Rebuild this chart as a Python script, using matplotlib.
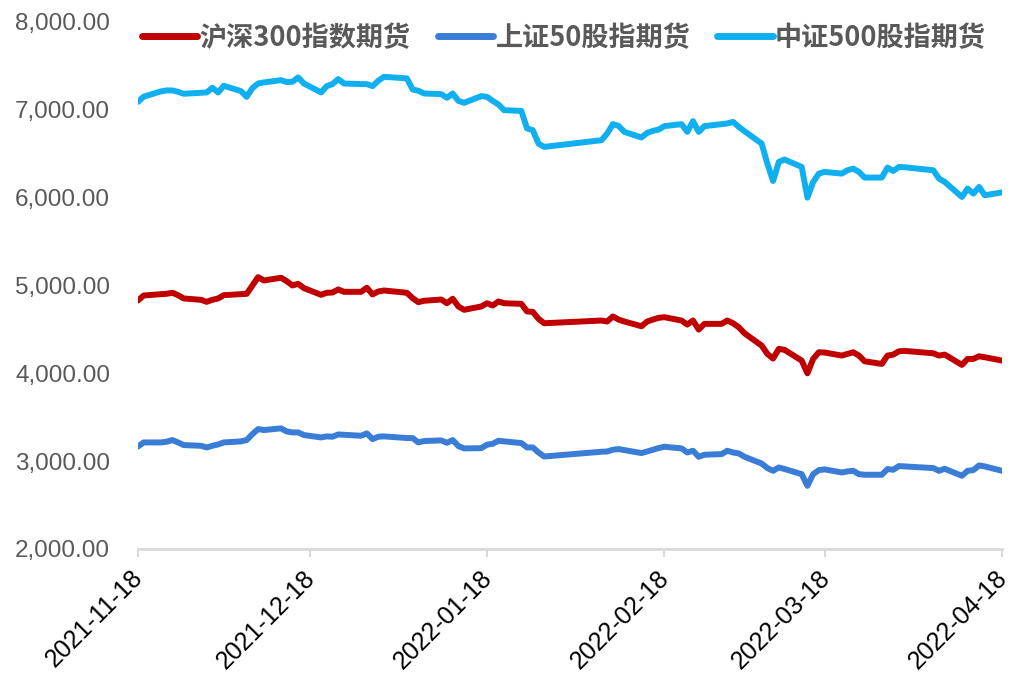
import pandas as pd
import matplotlib
matplotlib.use("Agg")
import matplotlib.pyplot as plt
import matplotlib.dates as mdates
import matplotlib.transforms as mtransforms
from matplotlib.ticker import FuncFormatter

plt.rcParams['font.family'] = ['Liberation Sans', 'Noto Sans CJK SC', 'DejaVu Sans']

# ------------------------------
# data (trading days)
# ------------------------------
dates = [
    "2021-11-18", "2021-11-19", "2021-11-22", "2021-11-23", "2021-11-24", "2021-11-25", "2021-11-26",
    "2021-11-29", "2021-11-30", "2021-12-01", "2021-12-02", "2021-12-03", "2021-12-06", "2021-12-07",
    "2021-12-08", "2021-12-09", "2021-12-10", "2021-12-13", "2021-12-14", "2021-12-15", "2021-12-16",
    "2021-12-17", "2021-12-20", "2021-12-21", "2021-12-22", "2021-12-23", "2021-12-24", "2021-12-27",
    "2021-12-28", "2021-12-29", "2021-12-30", "2021-12-31", "2022-01-04", "2022-01-05", "2022-01-06",
    "2022-01-07", "2022-01-10", "2022-01-11", "2022-01-12", "2022-01-13", "2022-01-14", "2022-01-17",
    "2022-01-18", "2022-01-19", "2022-01-20", "2022-01-21", "2022-01-24", "2022-01-25", "2022-01-26",
    "2022-01-27", "2022-01-28", "2022-02-07", "2022-02-08", "2022-02-09", "2022-02-10", "2022-02-11",
    "2022-02-14", "2022-02-15", "2022-02-16", "2022-02-17", "2022-02-18", "2022-02-21", "2022-02-22",
    "2022-02-23", "2022-02-24", "2022-02-25", "2022-02-28", "2022-03-01", "2022-03-02", "2022-03-03",
    "2022-03-04", "2022-03-07", "2022-03-08", "2022-03-09", "2022-03-10", "2022-03-11", "2022-03-14",
    "2022-03-15", "2022-03-16", "2022-03-17", "2022-03-18", "2022-03-21", "2022-03-22", "2022-03-23",
    "2022-03-24", "2022-03-25", "2022-03-28", "2022-03-29", "2022-03-30", "2022-03-31", "2022-04-01",
    "2022-04-06", "2022-04-07", "2022-04-08", "2022-04-11", "2022-04-12", "2022-04-13", "2022-04-14",
    "2022-04-15", "2022-04-18",
]

hs300 = [
    4829, 4886, 4901, 4905, 4917, 4890, 4852,
    4837, 4814, 4837, 4852, 4890, 4901, 4905,
    5000, 5095, 5057, 5088, 5049, 5000, 5019,
    4970, 4894, 4917, 4920, 4955, 4928, 4928,
    4974, 4898, 4932, 4943, 4917, 4856, 4810,
    4826, 4840, 4798, 4849, 4761, 4723, 4761,
    4798, 4772, 4818, 4798, 4791, 4704, 4700,
    4620, 4570, 4601, 4590, 4647, 4612, 4590,
    4536, 4590, 4612, 4632, 4639, 4601, 4555,
    4601, 4498, 4563, 4563, 4601, 4570, 4525,
    4456, 4316, 4221, 4168, 4278, 4267, 4145,
    4000, 4164, 4240, 4237, 4202, 4221, 4240,
    4202, 4137, 4107, 4202, 4213, 4251, 4255,
    4228, 4202, 4213, 4096, 4164, 4164, 4194,
    4183, 4145,
]

sz50 = [
    3167, 3213, 3213, 3221, 3240, 3213, 3183,
    3175, 3156, 3175, 3190, 3213, 3225, 3240,
    3308, 3365, 3354, 3373, 3338, 3327, 3327,
    3297, 3270, 3282, 3278, 3304, 3300, 3289,
    3316, 3251, 3278, 3282, 3263, 3263, 3213,
    3229, 3236, 3209, 3240, 3172, 3145, 3148,
    3187, 3198, 3232, 3225, 3206, 3156, 3156,
    3099, 3053, 3107, 3110, 3130, 3137, 3126,
    3092, 3110, 3130, 3149, 3164, 3145, 3099,
    3118, 3050, 3073, 3080, 3118, 3099, 3088,
    3050, 2973, 2921, 2890, 2928, 2910, 2852,
    2719, 2852, 2898, 2906, 2871, 2883, 2890,
    2852, 2845, 2845, 2910, 2902, 2944, 2940,
    2921, 2890, 2913, 2833, 2890, 2898, 2951,
    2940, 2890,
]

zz500 = [
    7090, 7150, 7210, 7221, 7221, 7205, 7183,
    7194, 7198, 7251, 7198, 7274, 7213, 7148,
    7247, 7300, 7312, 7338, 7316, 7320, 7369,
    7300, 7198, 7270, 7293, 7350, 7300, 7293,
    7293, 7270, 7331, 7376, 7358, 7232, 7217,
    7186, 7179, 7137, 7186, 7102, 7080, 7156,
    7148, 7102, 7061, 6996, 6988, 6788, 6768,
    6616, 6578, 6654, 6730, 6837, 6817, 6749,
    6685, 6738, 6760, 6776, 6814, 6837, 6749,
    6871, 6749, 6814, 6837, 6845, 6863, 6806,
    6757, 6616, 6388, 6190, 6407, 6434, 6350,
    6000, 6178, 6274, 6293, 6274, 6312, 6331,
    6293, 6229, 6229, 6343, 6304, 6350, 6346,
    6312, 6217, 6179, 6008, 6103, 6046, 6122,
    6027, 6060,
]

series_names = ["沪深300指数期货", "上证50股指期货", "中证500股指期货"]
tick_dates = ["2021-11-18", "2021-12-18", "2022-01-18", "2022-02-18", "2022-03-18", "2022-04-18"]

x = pd.to_datetime(dates)

# ------------------------------
# plot
# ------------------------------
fig = plt.figure(figsize=(10.13, 6.79), dpi=100)
ax = fig.add_axes([0.1362, 0.1915, 0.8529, 0.7761])

line_kw = dict(lw=4.3, solid_capstyle='round', solid_joinstyle='round')
ax.plot(x, hs300, color='#C00000', label=series_names[0], **line_kw)
ax.plot(x, sz50, color='#3A7DD6', label=series_names[1], **line_kw)
ax.plot(x, zz500, color='#10B0F0', label=series_names[2], **line_kw)

ax.set_ylim(2000, 8000)
ax.set_yticks(range(2000, 8001, 1000))
ax.yaxis.set_major_formatter(FuncFormatter(lambda v, _: f"{v:,.2f}"))
ax.tick_params(axis='y', length=0, pad=20, labelsize=17.5, labelcolor='#595959')

ax.set_xlim(pd.Timestamp(tick_dates[0]), pd.Timestamp(tick_dates[-1]))
ax.set_xticks(pd.to_datetime(tick_dates))
ax.xaxis.set_major_formatter(mdates.DateFormatter('%Y-%m-%d'))
ax.tick_params(axis='x', length=6, width=1.5, color='#D9D9D9', direction='out', pad=6,
               labelsize=18, labelcolor='black')
# nudge the rotated labels a bit left so the last one stays inside the figure
shift = mtransforms.ScaledTranslation(-0.07, 0, fig.dpi_scale_trans)
for lbl in ax.get_xticklabels():
    lbl.set_rotation(45)
    lbl.set_ha('right')
    lbl.set_va('top')
    lbl.set_rotation_mode('anchor')
    lbl.set_transform(lbl.get_transform() + shift)

for s in ['top', 'right', 'left']:
    ax.spines[s].set_visible(False)
ax.spines['bottom'].set_color('#D9D9D9')
ax.spines['bottom'].set_linewidth(2)

leg = ax.legend(loc='center', bbox_to_anchor=(0.493, 0.97), ncol=3, frameon=False,
                prop={'family': ['Noto Sans CJK SC', 'DejaVu Sans'], 'weight': 'bold', 'size': 19.5},
                handlelength=2.05, handletextpad=0.08, columnspacing=1.0)
for t in leg.get_texts():
    t.set_color('#595959')
for h in leg.get_lines():
    h.set_linewidth(5)

fig.savefig('out.png', dpi=100)
